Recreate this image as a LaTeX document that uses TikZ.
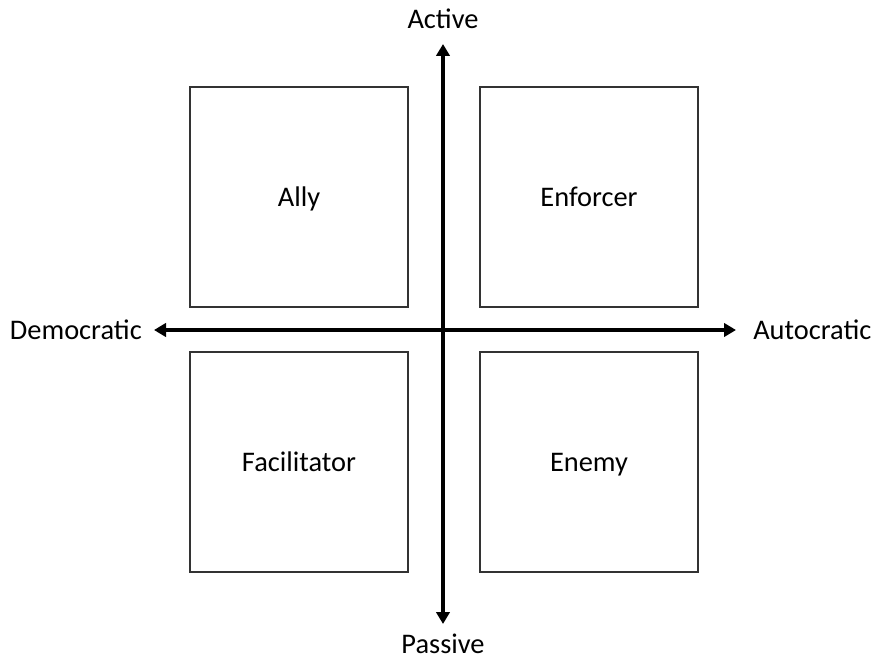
\documentclass[tikz,border=0pt]{standalone}
\usepackage{fontspec}
\setmainfont{Carlito}
\usetikzlibrary{arrows.meta,positioning}
\tikzset{
    quad/.style={draw=black!80, line width=1.1pt, minimum width=163.5pt, minimum height=165pt, text height=13.6pt, text depth=0pt, font=\fontsize{21.3}{25}\selectfont},
    axlabel/.style={font=\fontsize{21.3}{25}\selectfont, inner sep=0pt},
    axis/.style={line width=3pt, {Triangle[length=9pt,width=10pt]}-{Triangle[length=9pt,width=10pt]}}
}
\begin{document}
\begin{tikzpicture}[x=0.75pt, y=-0.75pt]
            \useasboundingbox (0, 0) rectangle (875, 660);
            \node[quad] (ally) at (299, 197) {Ally};
            \node[quad] (enforcer) at (589, 197) {Enforcer};
            \node[quad] (facilitator) at (299, 462) {Facilitator};
            \node[quad] (enemy) at (589, 462) {Enemy};
            \coordinate (top) at (443, 44);
            \coordinate (bottom) at (443, 624);
            \coordinate (left) at (154, 330);
            \coordinate (right) at (736, 330);
            \node[axlabel, anchor=base] (active) at (443, 29) {Active};
            \node[axlabel, anchor=base] (passive) at (443, 653) {Passive};
            \node[axlabel, anchor=east] (democratic) at (142, 330) {Democratic};
            \node[axlabel, anchor=west] (autocratic) at (753, 330) {Autocratic};
            \draw[axis] (top) -- (bottom);
            \draw[axis] (left) -- (right);
        \end{tikzpicture}
\end{document}
